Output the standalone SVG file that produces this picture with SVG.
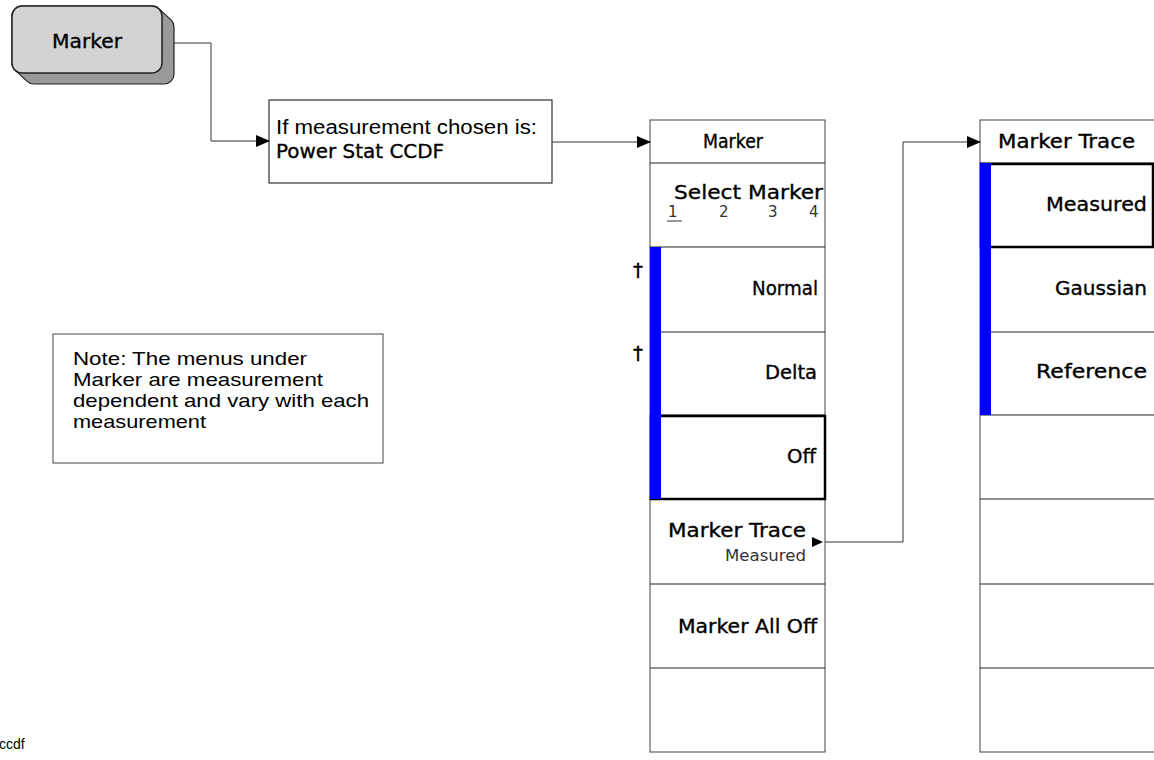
<svg xmlns="http://www.w3.org/2000/svg" width="1154" height="760" viewBox="0 0 1154 760">
<defs>
<style>
.menu{font-family:"DejaVu Sans","Liberation Sans",sans-serif;font-size:20px;fill:#000;stroke:#000;stroke-width:0.35}
.sm{font-family:"DejaVu Sans","Liberation Sans",sans-serif;font-size:15px;fill:#333}
.ar{font-family:"Liberation Sans",Arial,sans-serif;fill:#000}
.cell{fill:#fff;stroke:#444;stroke-width:1}
.div{stroke:#222;stroke-width:1.2}
.sel{fill:none;stroke:#000;stroke-width:2.5}
.bar{fill:#0000ff}
.conn{fill:none;stroke:#333;stroke-width:1}
</style>
<marker id="ah" markerWidth="14" markerHeight="12" refX="13" refY="6" orient="auto" markerUnits="userSpaceOnUse">
<path d="M0,0 L14,6 L0,12 Z" fill="#000"/>
</marker>
</defs>
<rect width="1154" height="760" fill="#fff"/>

<g id="marker-key">
<path d="M 22 6 L 152 6 A 10 10 0 0 1 159.07 8.93 L 171.07 19.93 A 10 10 0 0 1 174 27 L 174 74 A 10 10 0 0 1 164 84 L 34 84 A 10 10 0 0 1 26.93 81.07 L 14.93 70.07 A 10 10 0 0 1 12 63 L 12 16 A 10 10 0 0 1 22 6 Z" fill="#999" stroke="#222" stroke-width="1.2"/>
<rect x="12" y="6" width="150" height="67" rx="10" fill="#d3d3d3" stroke="#222" stroke-width="1.5"/>
<text class="menu" x="52" y="48" font-size="22" textLength="70" lengthAdjust="spacingAndGlyphs">Marker</text>
</g>

<g id="condition">
<rect x="269" y="100" width="283" height="83" fill="#fff" stroke="#333" stroke-width="1.2"/>
<text class="ar" x="276" y="134" font-size="20" textLength="261" lengthAdjust="spacingAndGlyphs">If measurement chosen is:</text>
<text class="menu" x="276" y="158" textLength="168" lengthAdjust="spacingAndGlyphs">Power Stat CCDF</text>
</g>

<g id="note">
<rect x="53" y="334" width="330" height="129" fill="#fff" stroke="#444" stroke-width="1"/>
<text class="ar" font-size="19">
<tspan x="73" y="365" textLength="234" lengthAdjust="spacingAndGlyphs">Note: The menus under</tspan>
<tspan x="73" y="386" textLength="250" lengthAdjust="spacingAndGlyphs">Marker are measurement</tspan>
<tspan x="73" y="407" textLength="296" lengthAdjust="spacingAndGlyphs">dependent and vary with each</tspan>
<tspan x="73" y="428" textLength="133" lengthAdjust="spacingAndGlyphs">measurement</tspan>
</text>
</g>

<g id="menu-marker">
<rect class="cell" x="650" y="120" width="175" height="632"/>
<line class="div" x1="650" y1="163" x2="825" y2="163"/>
<line class="div" x1="650" y1="247" x2="825" y2="247"/>
<line class="div" x1="650" y1="332" x2="825" y2="332"/>
<line class="div" x1="650" y1="415" x2="825" y2="415"/>
<line class="div" x1="650" y1="499" x2="825" y2="499"/>
<line class="div" x1="650" y1="584" x2="825" y2="584"/>
<line class="div" x1="650" y1="668" x2="825" y2="668"/>
<rect class="sel" x="651" y="416" width="174" height="83"/>
<rect class="bar" x="650" y="247" width="11" height="252"/>
<text class="menu" x="703" y="148" font-size="19" textLength="60" lengthAdjust="spacingAndGlyphs">Marker</text>
<text class="menu" x="674" y="199" textLength="149" lengthAdjust="spacingAndGlyphs">Select Marker</text>
<text class="sm" x="668" y="217" font-size="16">1</text>
<line x1="667" y1="221" x2="682" y2="221" stroke="#333" stroke-width="1"/>
<text class="sm" x="719" y="217" font-size="16">2</text>
<text class="sm" x="768" y="217" font-size="16">3</text>
<text class="sm" x="809" y="217" font-size="16">4</text>
<text class="menu" x="633" y="277">†</text>
<text class="menu" x="633" y="360">†</text>
<text class="menu" x="752" y="295" textLength="66" lengthAdjust="spacingAndGlyphs">Normal</text>
<text class="menu" x="765" y="379" textLength="52" lengthAdjust="spacingAndGlyphs">Delta</text>
<text class="menu" x="787" y="463" textLength="29" lengthAdjust="spacingAndGlyphs">Off</text>
<text class="menu" x="668" y="537" textLength="138" lengthAdjust="spacingAndGlyphs">Marker Trace</text>
<text class="sm" x="725" y="561" font-size="17" textLength="81" lengthAdjust="spacingAndGlyphs">Measured</text>
<path d="M812,537 L823,542 L812,547 Z" fill="#000"/>
<text class="menu" x="678" y="633" textLength="139" lengthAdjust="spacingAndGlyphs">Marker All Off</text>
</g>

<g id="menu-marker-trace">
<rect class="cell" x="980" y="120" width="175" height="632"/>
<line class="div" x1="980" y1="163" x2="1155" y2="163"/>
<line class="div" x1="980" y1="247" x2="1155" y2="247"/>
<line class="div" x1="980" y1="332" x2="1155" y2="332"/>
<line class="div" x1="980" y1="415" x2="1155" y2="415"/>
<line class="div" x1="980" y1="499" x2="1155" y2="499"/>
<line class="div" x1="980" y1="584" x2="1155" y2="584"/>
<line class="div" x1="980" y1="668" x2="1155" y2="668"/>
<rect class="sel" x="981" y="164" width="172" height="83"/>
<rect class="bar" x="980" y="163" width="11" height="252"/>
<text class="menu" x="998" y="148" textLength="137" lengthAdjust="spacingAndGlyphs">Marker Trace</text>
<text class="menu" x="1046" y="211" textLength="101" lengthAdjust="spacingAndGlyphs">Measured</text>
<text class="menu" x="1055" y="295" textLength="92" lengthAdjust="spacingAndGlyphs">Gaussian</text>
<text class="menu" x="1036" y="378" textLength="111" lengthAdjust="spacingAndGlyphs">Reference</text>
</g>

<g id="connectors">
<path class="conn" d="M174,43 H211 V141 H269" marker-end="url(#ah)"/>
<path class="conn" d="M552,142 H650" marker-end="url(#ah)"/>
<path class="conn" d="M825,542 H903 V142 H980" marker-end="url(#ah)"/>
</g>

<text class="ar" x="-1" y="749" font-size="14">ccdf</text>
</svg>
